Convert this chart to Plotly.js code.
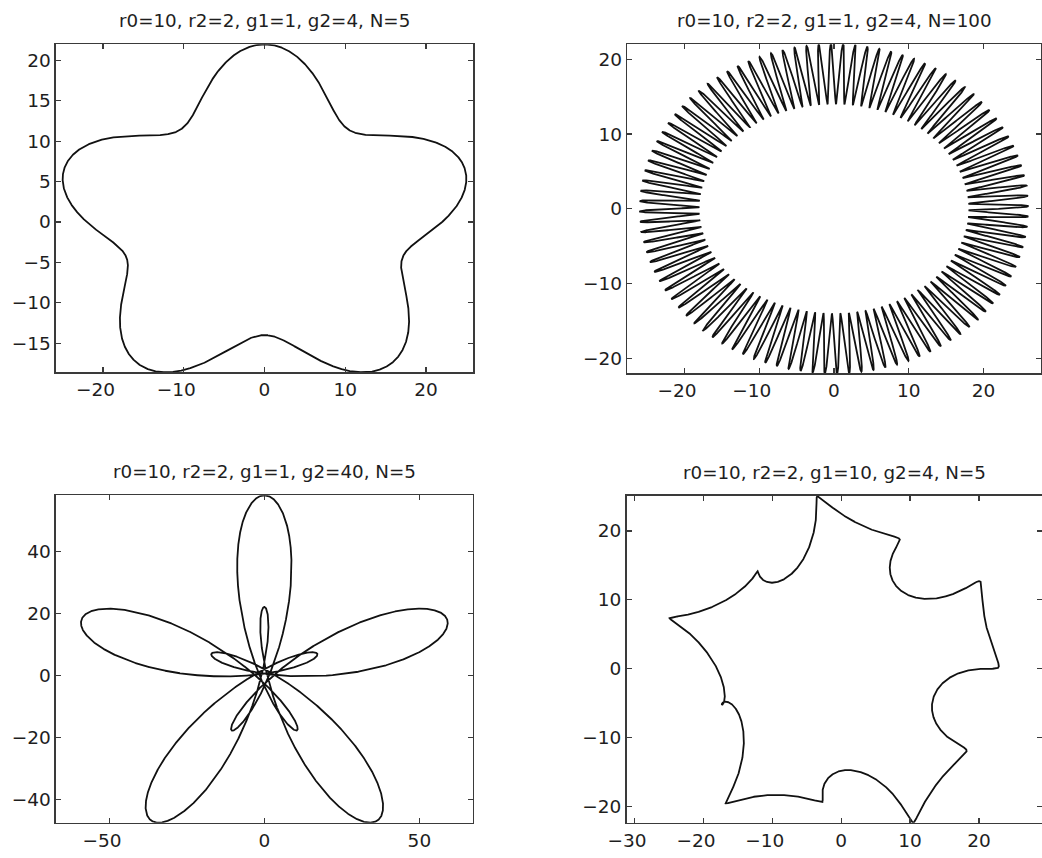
<!DOCTYPE html>
<html><head><meta charset="utf-8">
<script src="https://cdn.plot.ly/plotly-3.0.1.min.js"></script>
<style>html,body{margin:0;padding:0;background:#fff}#chart{width:1042px;height:858px}</style>
</head><body><div id="chart"></div>
<script>
// Parameters of the four panels, as given in the subplot titles
const r0 = [10, 10, 10, 10];
const r2 = [2, 2, 2, 2];
const g1 = [1, 1, 1, 10];
const g2 = [4, 4, 40, 4];
const N  = [5, 100, 5, 5];
// Tick values of each panel
const xTicks = [[-20,-10,0,10,20],[-20,-10,0,10,20],[-50,0,50],[-30,-20,-10,0,10,20]];
const yTicks = [[-15,-10,-5,0,5,10,15,20],[-20,-10,0,10,20],[-40,-20,0,20,40],[-20,-10,0,10,20]];

// Plot boxes in pixels [left, top, right, bottom] (layout only)
const W = 1042, H = 858;
const boxes = [[56,44.3,473,372.3],[627.3,44.3,1040.7,373.3],[56,495.3,472.7,822.7],[626.7,496,1041.7,822.7]];
const FONT = 'DejaVu Sans, Arial, sans-serif';

// Closed curve z(t) = (2*r0 + g2*sin(N t)) e^{it} + r2 e^{-i g1 t}
function curve(k){
  const n = 20000, xs = [], ys = [];
  for(let j=0;j<=n;j++){
    const t = 2*Math.PI*j/n;
    const r = 2*r0[k] + g2[k]*Math.sin(N[k]*t);
    xs.push(r*Math.cos(t) + r2[k]*Math.cos(g1[k]*t));
    ys.push(r*Math.sin(t) - r2[k]*Math.sin(g1[k]*t));
  }
  return {xs, ys};
}
// x labels: number centred on the tick, minus sign hanging to the left
function xLabel(v){ return v < 0 ? '\u2212' + Math.abs(v) + '\u2002\u2009\u200A' : String(v); }
function yLabel(v){ return v < 0 ? '\u2212' + Math.abs(v) : String(v); }

const data = [], layout = {
  width: W, height: H, margin:{l:0,r:0,t:0,b:0},
  paper_bgcolor:'#fff', plot_bgcolor:'#fff', showlegend:false,
  font:{family:FONT, size:18.5, color:'#1e1e1e'},
  annotations: []
};

for(let k=0;k<4;k++){
  const c = curve(k);
  const sfx = k===0 ? '' : String(k+1);
  data.push({type:'scatter', mode:'lines', x:c.xs, y:c.ys, xaxis:'x'+sfx, yaxis:'y'+sfx,
             line:{color:'#111', width:1.8}, hoverinfo:'skip'});
  const [L,T,R,B] = boxes[k];
  const pw = R-L, ph = B-T;
  const xmin = Math.min(...c.xs), xmax = Math.max(...c.xs);
  const ymin = Math.min(...c.ys), ymax = Math.max(...c.ys);
  const s = Math.max((xmax-xmin)/pw, (ymax-ymin)/ph); // units per pixel, equal aspect
  const xc = (xmin+xmax)/2, yc = (ymin+ymax)/2;
  const ax = {
    showline:true, mirror:'ticks', linecolor:'#3a3a3a', linewidth:1.6,
    ticks:'inside', ticklen:5, tickwidth:1.2, tickcolor:'#3a3a3a',
    showgrid:false, zeroline:false, fixedrange:true,
    tickfont:{family:FONT, size:18.5, color:'#1e1e1e'}
  };
  layout['xaxis'+sfx] = Object.assign({}, ax, {
    domain:[L/W, R/W], anchor:'y'+sfx,
    range:[xc - s*pw/2, xc + s*pw/2], tickmode:'array',
    tickvals:xTicks[k], ticktext:xTicks[k].map(xLabel)
  });
  layout['yaxis'+sfx] = Object.assign({}, ax, {
    domain:[1-B/H, 1-T/H], anchor:'x'+sfx,
    range:[yc - s*ph/2, yc + s*ph/2], tickmode:'array',
    tickvals:yTicks[k], ticktext:yTicks[k].map(yLabel)
  });
  layout.annotations.push({
    xref:'paper', yref:'paper', x:(L+R)/2/W, y:1-(T-24)/H, xanchor:'center', yanchor:'middle',
    showarrow:false,
    text:'r0='+r0[k]+', r2='+r2[k]+', g1='+g1[k]+', g2='+g2[k]+', N='+N[k],
    font:{family:FONT, size:18.3, color:'#1e1e1e'}
  });
}

Plotly.newPlot('chart', data, layout, {displayModeBar:false, staticPlot:true});
</script></body></html>
